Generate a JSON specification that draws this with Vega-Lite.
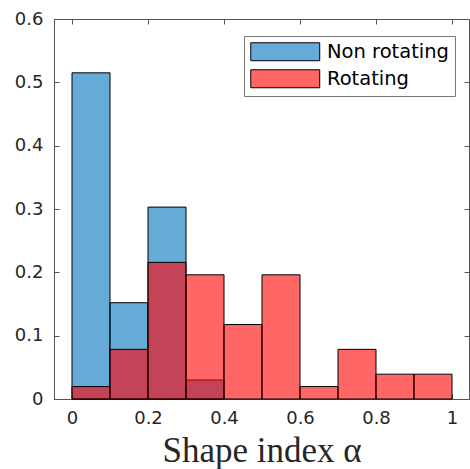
{
  "$schema": "https://vega.github.io/schema/vega-lite/v6.json",
  "width": 415,
  "height": 380,
  "autosize": "none",
  "padding": {"left": 54, "top": 19, "right": 1, "bottom": 70},
  "background": "white",
  "config": {
    "view": {"stroke": "#555555", "strokeWidth": 1},
    "axis": {
      "grid": false,
      "domainColor": "#555555",
      "tickColor": "#555555",
      "tickSize": -5,
      "labelFont": "DejaVu Sans",
      "labelFontSize": 18,
      "labelColor": "#262626",
      "titleColor": "#262626"
    }
  },
  "data": {
    "values": [
      {"group": "Non rotating", "start": 0.0, "end": 0.1, "freq": 0.515},
      {"group": "Non rotating", "start": 0.1, "end": 0.2, "freq": 0.152},
      {"group": "Non rotating", "start": 0.2, "end": 0.3, "freq": 0.303},
      {"group": "Non rotating", "start": 0.3, "end": 0.4, "freq": 0.030},
      {"group": "Rotating", "start": 0.0, "end": 0.1, "freq": 0.0196},
      {"group": "Rotating", "start": 0.1, "end": 0.2, "freq": 0.0784},
      {"group": "Rotating", "start": 0.2, "end": 0.3, "freq": 0.2157},
      {"group": "Rotating", "start": 0.3, "end": 0.4, "freq": 0.1961},
      {"group": "Rotating", "start": 0.4, "end": 0.5, "freq": 0.1176},
      {"group": "Rotating", "start": 0.5, "end": 0.6, "freq": 0.1961},
      {"group": "Rotating", "start": 0.6, "end": 0.7, "freq": 0.0196},
      {"group": "Rotating", "start": 0.7, "end": 0.8, "freq": 0.0784},
      {"group": "Rotating", "start": 0.8, "end": 0.9, "freq": 0.0392},
      {"group": "Rotating", "start": 0.9, "end": 1.0, "freq": 0.0392}
    ]
  },
  "resolve": {"axis": {"x": "independent", "y": "independent"}},
  "layer": [
    {
      "transform": [{"filter": "datum.group === 'Non rotating'"}],
      "mark": {"type": "bar", "fillOpacity": 0.6, "stroke": "black", "strokeWidth": 1, "strokeOpacity": 1},
      "encoding": {
        "x": {
          "field": "start", "type": "quantitative",
          "scale": {"domain": [-0.0474, 1.0447], "nice": false, "zero": false},
          "axis": {"orient": "bottom", "values": [0, 0.2, 0.4, 0.6, 0.8, 1], "labelPadding": 15,
                   "title": "Shape index α", "titleFont": "Liberation Serif", "titleFontSize": 35,
                   "titleFontWeight": "normal", "titlePadding": 6,
                   "labelExpr": "datum.value == 0 ? '0' : datum.value == 1 ? '1' : format(datum.value, '.1f')"}
        },
        "x2": {"field": "end"},
        "y": {
          "field": "freq", "type": "quantitative", "stack": null,
          "scale": {"domain": [0, 0.6], "nice": false},
          "axis": {"orient": "left", "values": [0, 0.1, 0.2, 0.3, 0.4, 0.5, 0.6], "labelPadding": 16, "title": null,
                   "labelExpr": "datum.value == 0 ? '0' : format(datum.value, '.1f')"}
        },
        "y2": {"datum": 0},
        "color": {
          "field": "group", "type": "nominal",
          "scale": {"domain": ["Non rotating", "Rotating"], "range": ["#0072BD", "#FF0000"]},
          "legend": {
            "orient": "none", "legendX": 190, "legendY": 17, "title": null,
            "symbolType": "M-3.83,-1H3.83V1H-3.83Z", "symbolSize": 324, "symbolOffset": 25.5,
            "symbolStrokeColor": "black", "symbolStrokeWidth": 1,
            "labelFont": "DejaVu Sans", "labelFontSize": 19.5, "labelColor": "black",
            "labelOffset": 32, "rowPadding": 4, "padding": 6,
            "strokeColor": "#777777", "fillColor": "white",
            "encode": {"symbols": {"update": {"fillOpacity": {"value": 0.6}, "strokeOpacity": {"value": 1}}}}
          }
        }
      }
    },
    {
      "transform": [{"filter": "datum.group === 'Rotating'"}],
      "mark": {"type": "bar", "fillOpacity": 0.6, "stroke": "black", "strokeWidth": 1, "strokeOpacity": 1},
      "encoding": {
        "x": {
          "field": "start", "type": "quantitative",
          "axis": {"orient": "top", "values": [0, 0.2, 0.4, 0.6, 0.8, 1], "labels": false, "title": null, "domain": false}
        },
        "x2": {"field": "end"},
        "y": {
          "field": "freq", "type": "quantitative", "stack": null,
          "axis": {"orient": "right", "values": [0, 0.1, 0.2, 0.3, 0.4, 0.5, 0.6], "labels": false, "title": null, "domain": false}
        },
        "y2": {"datum": 0},
        "color": {"field": "group", "type": "nominal"}
      }
    }
  ]
}
